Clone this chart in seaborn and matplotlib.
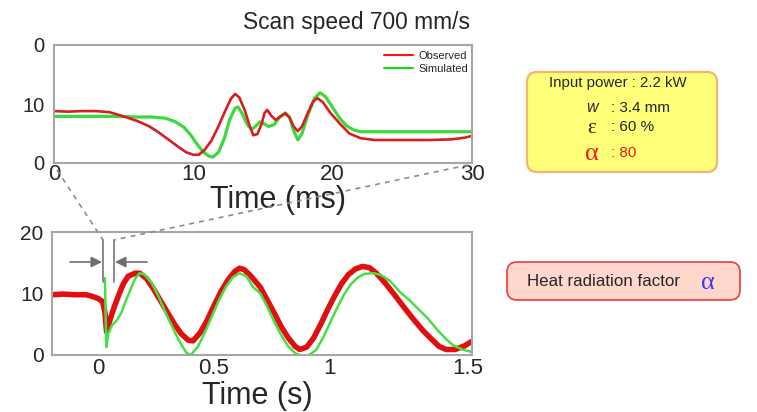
import matplotlib
matplotlib.use("Agg")
import numpy as np
import pandas as pd
import matplotlib.pyplot as plt
import seaborn as sns
from matplotlib.patches import FancyBboxPatch
from matplotlib.lines import Line2D

# ---------------- data ----------------
title = "Scan speed 700 mm/s"
series_names = ["Observed", "Simulated"]

top_time_obs = [0, 1, 2, 3, 4, 5, 6, 6.85, 7.5, 8.2, 9, 9.5, 10.0, 10.4, 10.8, 11.3, 11.8, 12.3,
                12.7, 13.0, 13.3, 13.7, 14.0, 14.3, 14.6, 14.9, 15.1, 15.3, 15.6, 15.9, 16.2,
                16.6, 16.9, 17.2, 17.5, 17.8, 18.2, 18.6, 18.9, 19.3, 19.8, 20.5, 21.2, 22.0,
                23, 25, 27, 28.5, 29.5, 30]
top_obs = [8.8, 8.7, 8.8, 8.8, 8.6, 7.9, 7.1, 6.2, 5.2, 4.0, 2.6, 1.8, 1.4, 1.4, 2.2, 3.8, 6.2, 8.9,
           10.9, 11.7, 11.1, 8.9, 6.6, 4.7, 4.9, 6.6, 8.4, 9.0, 8.0, 7.3, 7.8,
           8.4, 7.7, 6.2, 5.4, 6.2, 8.4, 10.4, 11.0, 10.3, 8.6, 6.7, 5.0, 4.2,
           3.9, 3.9, 3.9, 4.0, 4.3, 4.6]

top_time_sim = [0, 2, 4, 6, 7, 8, 8.7, 9.3, 9.8, 10.2, 10.7, 11.1, 11.4, 11.8, 12.2, 12.6, 13.0,
                13.2, 13.5, 13.9, 14.2, 14.5, 14.8, 15.1, 15.4, 15.8, 16.2, 16.6, 16.9, 17.2,
                17.5, 17.8, 18.2, 18.7, 19.1, 19.5, 20.0, 20.5, 21.0, 21.5, 22, 24, 26, 28, 30]
top_sim = [7.9, 7.9, 7.9, 7.8, 7.8, 7.6, 7.0, 6.1, 4.8, 3.4, 1.9, 1.2, 1.0, 1.8, 4.0, 7.3, 9.3,
           9.5, 8.4, 6.4, 5.7, 6.3, 7.0, 6.6, 6.2, 6.5, 7.8, 8.5, 7.8, 5.5,
           3.9, 5.0, 8.0, 11.0, 11.9, 11.2, 9.4, 7.6, 6.3, 5.6, 5.3, 5.3, 5.3, 5.3, 5.3]

bot_time_obs = [-0.2, -0.15, -0.10, -0.05, -0.03, 0.0, 0.02, 0.03, 0.037, 0.05, 0.07, 0.09, 0.11,
                0.13, 0.16, 0.18, 0.21, 0.24, 0.27, 0.30, 0.33, 0.36, 0.39, 0.41, 0.44, 0.47,
                0.50, 0.53, 0.56, 0.59, 0.61, 0.63, 0.66, 0.70, 0.73, 0.76, 0.79, 0.82, 0.85,
                0.87, 0.90, 0.93, 0.96, 0.99, 1.02, 1.05, 1.08, 1.11, 1.14, 1.17, 1.20, 1.24,
                1.28, 1.32, 1.36, 1.40, 1.44, 1.47, 1.50, 1.54, 1.58, 1.61]
bot_obs = [9.8, 9.9, 9.8, 9.8, 9.6, 9.2, 8.7, 7.0, 3.8, 5.5, 7.8, 9.8, 11.6,
           12.8, 13.3, 13.3, 12.4, 10.7, 8.8, 6.9, 5.0, 3.4, 2.4, 2.3, 3.6, 5.6,
           8.0, 10.3, 12.2, 13.6, 14.1, 13.9, 12.8, 11.0, 8.9, 6.8, 4.6, 2.8, 1.4,
           0.9, 1.3, 2.8, 5.0, 7.4, 9.6, 11.6, 13.1, 14.0, 14.4, 14.2, 13.3, 11.6,
           9.7, 7.7, 5.8, 4.0, 2.5, 1.4, 0.9, 0.9, 1.5, 2.2]

bot_time_sim = [0.030, 0.036, 0.045, 0.06, 0.08, 0.10, 0.12, 0.14, 0.16, 0.18, 0.20, 0.23, 0.26,
                0.29, 0.32, 0.35, 0.38, 0.40, 0.43, 0.46, 0.49, 0.52, 0.55, 0.58, 0.61, 0.64,
                0.67, 0.70, 0.73, 0.76, 0.79, 0.82, 0.85, 0.88, 0.91, 0.94, 0.97, 1.00, 1.03,
                1.06, 1.09, 1.12, 1.15, 1.19, 1.22, 1.26, 1.30, 1.34, 1.38, 1.42, 1.46, 1.50,
                1.53, 1.57, 1.61]
bot_sim = [12.5, 1.3, 3.5, 4.8, 5.6, 6.8, 8.8, 10.6, 12.4, 13.3, 13.1, 11.8, 9.6,
           7.0, 4.6, 2.3, 0.4, 0.0, 1.3, 3.6, 6.2, 8.8, 11.0, 12.6, 13.3, 12.8,
           11.0, 10.0, 7.8, 5.4, 3.2, 1.4, 0.3, -0.2, 0.0, 0.8, 2.8, 5.2, 7.6,
           9.8, 11.5, 12.6, 13.2, 13.3, 13.0, 12.0, 10.3, 9.0, 7.5, 6.0, 4.2, 2.6,
           1.6, 0.9, 0.5]

top_xticks = [0, 10, 20, 30]
top_xticklabels = ["0", "10", "20", "30"]
top_yticks = [0, 10, 20]
top_yticklabels = ["0", "10", "0"]
bot_xticks = [0, 0.5, 1, 1.595]
bot_xticklabels = ["0", "0.5", "1", "1.5"]
bot_yticks = [0, 10, 20]
bot_yticklabels = ["0", "10", "20"]

top_xlabel = "Time (ms)"
bot_xlabel = "Time (s)"

params_title = "Input power : 2.2 kW"
params_syms = ["w", "\u03b5", "\u03b1"]
params_vals = [": 3.4 mm", ": 60 %", ": 80"]
factor_text = "Heat radiation factor"

# ---------------- style ----------------
sns.set_style("white")
plt.rcParams['font.family'] = ['Liberation Sans', 'DejaVu Sans']

W, H = 757, 412
fig = plt.figure(figsize=(W / 100, H / 100), dpi=100)


def rect(l, t, r, b):
    return [l / W, 1 - b / H, (r - l) / W, (b - t) / H]


RED_T, GREEN_T = "#D91E23", "#3CD93C"
RED_B, GREEN_B = "#E01010", "#44E044"
SPINE = "#A6A6A6"

top_df_obs = pd.DataFrame({"t": top_time_obs, "v": top_obs})
top_df_sim = pd.DataFrame({"t": top_time_sim, "v": top_sim})
bot_df_obs = pd.DataFrame({"t": bot_time_obs, "v": bot_obs})
bot_df_sim = pd.DataFrame({"t": bot_time_sim, "v": bot_sim})

ax1 = fig.add_axes(rect(54, 45, 472, 163))
ax2 = fig.add_axes(rect(52, 232, 472, 355))

sns.lineplot(data=top_df_sim, x="t", y="v", ax=ax1, color=GREEN_T, lw=2.3,
             estimator=None, sort=False, legend=False)
sns.lineplot(data=top_df_obs, x="t", y="v", ax=ax1, color=RED_T, lw=1.9,
             estimator=None, sort=False, legend=False)

sns.lineplot(data=bot_df_obs, x="t", y="v", ax=ax2, color=RED_B, lw=4.0,
             estimator=None, sort=False, legend=False)
sns.lineplot(data=bot_df_sim, x="t", y="v", ax=ax2, color=GREEN_B, lw=1.8,
             estimator=None, sort=False, legend=False)

for ax in (ax1, ax2):
    for s in ax.spines.values():
        s.set_color(SPINE)
        s.set_linewidth(1.5)
    ax.tick_params(which="both", direction="in", color=SPINE, length=3, width=1)
    ax.set_ylabel("")

ax1.set_xlim(0, 30)
ax1.set_ylim(0, 20)
ax1.set_xticks(top_xticks)
ax1.set_xticklabels(top_xticklabels)
ax1.set_xticks([5, 15, 25], minor=True)
ax1.set_yticks(top_yticks)
ax1.set_yticklabels(top_yticklabels)
ax1.set_yticks([5, 15], minor=True)
ax1.tick_params(axis="x", labelsize=16, pad=1)
ax1.tick_params(axis="y", labelsize=14.5, pad=7)
ax1.set_xlabel(top_xlabel, fontsize=22)
ax1.xaxis.label.set_va("center")
ax1.xaxis.set_label_coords(0.536, -0.315)

ax2.set_xlim(-0.198, 1.612)
ax2.set_ylim(0, 20)
ax2.set_xticks(bot_xticks)
ax2.set_xticklabels(bot_xticklabels)
ax2.set_yticks(bot_yticks)
ax2.set_yticklabels(bot_yticklabels)
ax2.set_yticks([5, 15], minor=True)
ax2.tick_params(axis="x", labelsize=16, pad=2)
ax2.tick_params(axis="y", labelsize=15, pad=6)
ax2.set_xlabel(bot_xlabel, fontsize=22)
ax2.xaxis.label.set_va("center")
ax2.xaxis.set_label_coords(0.49, -0.33)

handles = [Line2D([], [], color="#FF1010", lw=1.5, label=series_names[0]),
           Line2D([], [], color="#10E010", lw=1.5, label=series_names[1])]
ax1.legend(handles=handles, loc="upper right", bbox_to_anchor=(0.99, 0.95),
           frameon=False, fontsize=8, handlelength=2.6, handletextpad=0.5,
           labelspacing=0.25, borderaxespad=0, borderpad=0)

fig.text(470 / W, 1 - 22 / H, title, ha="right", va="center", fontsize=16.4)

# ---------------- overlay (annotations) ----------------
ov = fig.add_axes([0, 0, 1, 1], zorder=5)
ov.set_xlim(0, W)
ov.set_ylim(H, 0)
ov.axis("off")
ov.patch.set_alpha(0)

dash = dict(color="#8C8C8C", lw=1.2, ls=(0, (3, 3)))
ov.plot([57, 103], [170, 240], **dash)
ov.plot([468, 114], [165, 240], **dash)
ov.plot([103, 103], [240, 282], color="#777777", lw=1.2)
ov.plot([114, 114], [240, 282], color="#777777", lw=1.2)
arr = dict(arrowstyle="-|>", color="#6E6E6E", lw=1.2, mutation_scale=16, shrinkA=0, shrinkB=0)
ov.annotate("", xy=(102, 262), xytext=(70, 262), arrowprops=arr)
ov.annotate("", xy=(115, 262), xytext=(147, 262), arrowprops=arr)

ov.add_patch(FancyBboxPatch((527, 72), 190, 100, boxstyle="round,pad=0,rounding_size=10",
                            fc="#FFFF78", ec="#F5B36E", lw=1.6))
ov.text(618, 83, params_title, ha="center", va="center", fontsize=10.8)
ov.text(592, 107, params_syms[0], ha="center", va="center", fontsize=11.5, style="italic")
ov.text(611, 108, params_vals[0], ha="left", va="center", fontsize=11)
ov.text(592, 128, params_syms[1], ha="center", va="center", fontsize=15,
        family=["Liberation Serif", "DejaVu Serif"])
ov.text(611, 127, params_vals[1], ha="left", va="center", fontsize=11)
ov.text(592, 154, params_syms[2], ha="center", va="center", fontsize=19, color="#F01818",
        family=["Liberation Serif", "DejaVu Serif"])
ov.text(611, 153, params_vals[2], ha="left", va="center", fontsize=11, color="#F01818")

ov.add_patch(FancyBboxPatch((507, 262), 233, 38, boxstyle="round,pad=0,rounding_size=10",
                            fc="#FFD7CD", ec="#EE3B3B", lw=1.2))
ov.text(527, 281, factor_text, ha="left", va="center", fontsize=12.2)
ov.text(708, 283, params_syms[2], ha="center", va="center", fontsize=19, color="#3A3AF0",
        family=["Liberation Serif", "DejaVu Serif"])

fig.savefig("out.png", dpi=100)
